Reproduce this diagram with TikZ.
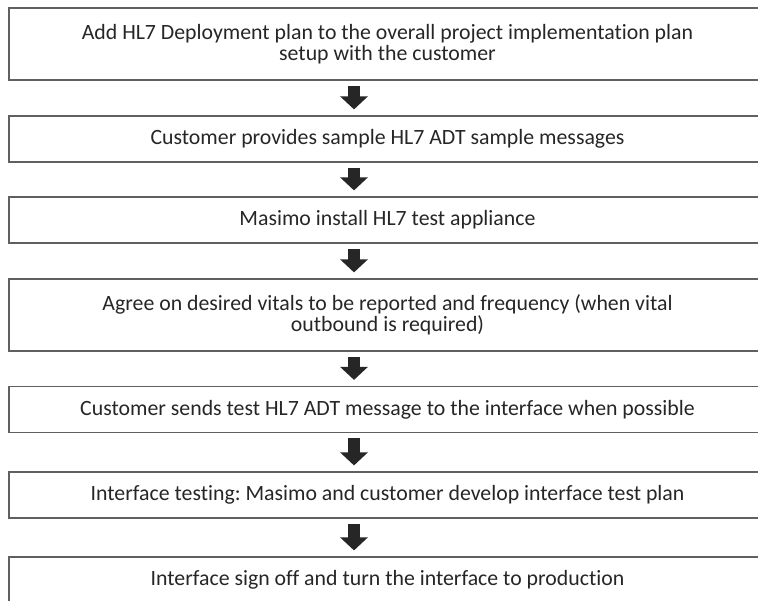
\documentclass[tikz,border=0pt]{standalone}
\usepackage{fontspec}
\setmainfont{Carlito}[Ligatures=NoCommon]
\frenchspacing
\usetikzlibrary{arrows.meta}

\tikzset{
  stepbox/.style={draw=gray!75!black, line width=0.6pt, minimum width=378.5pt,
    minimum height=23pt, align=center, inner sep=0pt,
    font=\fontsize{10.9pt}{10.6pt}\selectfont, text=black!85},
  flow/.style={draw=black!85, line width=6pt,
    -{Triangle[length=6.5pt, width=13.5pt]}},
}

\begin{document}
\begin{tikzpicture}[x=0.5pt, y=-0.5pt]
  \useasboundingbox (0,0) rectangle (758,600);
  \clip (0,0) rectangle (758,600);

  % steps of the HL7 deployment
  \node[stepbox, minimum height=36pt] (s1) at (387.5,44)
    {Add HL7 Deployment plan to the overall project implementation plan\\setup with the customer};
  \node[stepbox] (s2) at (387.5,139) {Customer provides sample HL7 ADT sample messages};
  \node[stepbox] (s3) at (387.5,220) {Masimo install HL7 test appliance};
  \node[stepbox, minimum height=36pt] (s4) at (387.5,315)
    {Agree on desired vitals to be reported and frequency (when vital\\outbound is required)};
  \node[stepbox] (s5) at (387.5,409.5) {Customer sends test HL7 ADT message to the interface when possible};
  \node[stepbox] (s6) at (387.5,495) {Interface testing: Masimo and customer develop interface test plan};
  \node[stepbox] (s7) at (387.5,580) {Interface sign off and turn the interface to production};

  % block arrows between the steps
  \coordinate (ax) at (354,0);
  \foreach \a/\b in {s1/s2, s2/s3, s3/s4, s4/s5, s5/s6, s6/s7} {
    \draw[flow] ([yshift=-2.5pt]\a.south -| ax) -- ([yshift=3pt]\b.north -| ax);
  }
\end{tikzpicture}
\end{document}
